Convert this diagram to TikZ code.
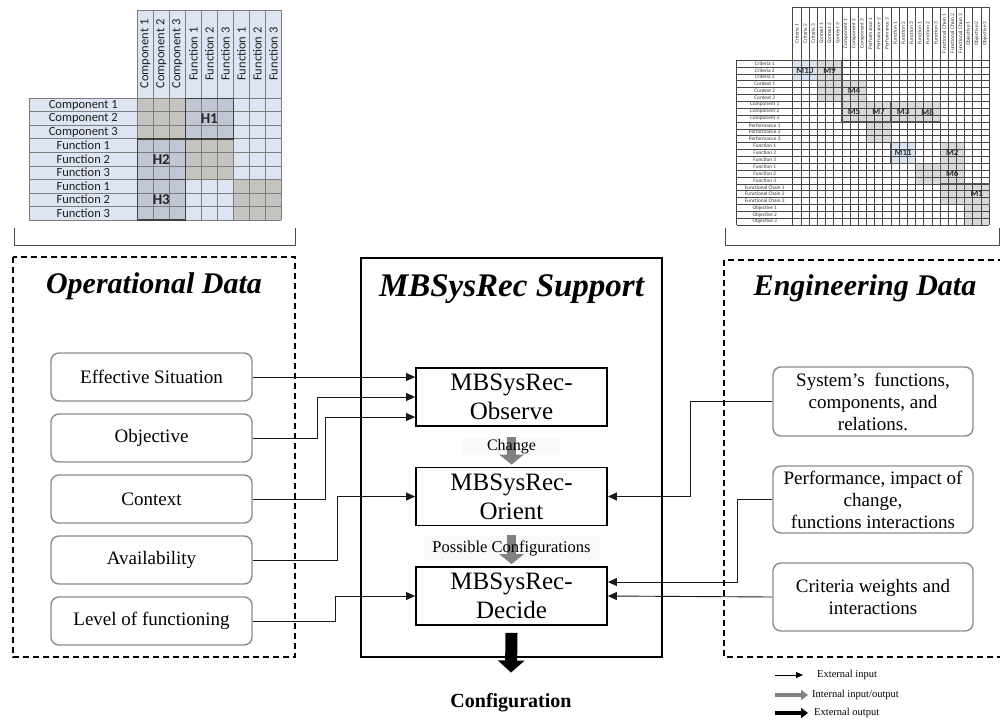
\documentclass[tikz,border=0pt]{standalone}
\usepackage{fontspec}
\setmainfont{Liberation Serif}
\newfontfamily\calib{Carlito}
\usetikzlibrary{arrows.meta,calc}
\definecolor{lblue}{RGB}{220,229,241}
\definecolor{gblk}{RGB}{196,195,192}
\definecolor{hblk}{RGB}{193,199,212}
\definecolor{gridc}{RGB}{125,125,125}
\definecolor{rgridc}{RGB}{70,70,70}
\definecolor{rgray}{RGB}{217,217,217}
\definecolor{rblue}{RGB}{219,227,241}
\definecolor{boxc}{RGB}{140,140,140}
\definecolor{garc}{RGB}{128,128,128}
\definecolor{bgc}{RGB}{249,249,249}
\definecolor{txtc}{RGB}{30,30,30}
\begin{document}
\begin{tikzpicture}[x=1pt,y=-1pt,
  lgrid/.style={draw=gridc,line width=0.8pt},
  rgrid/.style={draw=rgridc,line width=0.5pt},
  hbord/.style={draw=black!75,line width=1.3pt},
  mbord/.style={draw=black!65,line width=0.9pt},
  lmtxt/.style={font=\calib\fontsize{12.5}{13}\selectfont,text=txtc,inner sep=0pt},
  rmtxt/.style={font=\calib\fontsize{5.3}{6}\selectfont,text=black!80,inner sep=0pt},
  hlab/.style={font=\calib\bfseries\fontsize{15}{16}\selectfont,text=black!85,inner sep=0pt},
  mlab/.style={font=\calib\bfseries\fontsize{9}{10}\selectfont,text=black!80,inner sep=0pt},
  dbox/.style={draw=black,line width=1.4pt,dash pattern=on 6pt off 4pt},
  cbox/.style={draw=black,line width=1.4pt},
  title/.style={font=\fontsize{30}{34}\selectfont\bfseries\itshape,anchor=base,inner sep=0pt},
  lbox/.style={draw=boxc,line width=1.4pt,rounded corners=8pt,minimum width=201pt,minimum height=48pt,
     font=\fontsize{19}{22}\selectfont,align=center,inner sep=0pt},
  rbox/.style={lbox,minimum width=200pt},
  mbox/.style={draw=black,line width=1.8pt,minimum width=191pt,minimum height=58pt,
     font=\fontsize{25}{29}\selectfont,align=center,inner sep=0pt},
  conn/.style={draw=black!90,line width=0.9pt,-{Triangle[length=9pt,width=8pt]}},
  garr/.style={draw=garc,line width=9pt,-{Triangle[length=10pt,width=24pt]}},
  barr/.style={draw=black,line width=12pt,-{Triangle[length=12pt,width=26pt]}},
  lbl/.style={font=\fontsize{16}{18}\selectfont,inner sep=0pt},
  legtxt/.style={font=\fontsize{10.5}{12}\selectfont,anchor=west,inner sep=0pt}
]
\useasboundingbox (0,0) rectangle (1000,723);
\fill[white] (0,0) rectangle (1000,723);

% ---------------- left matrix ----------------
\begin{scope}[shift={(137.3,98.3)},xscale=16,yscale=13.52]
\fill[lblue] (-6.75,0) rectangle (9,9);
\fill[lblue] (0,-6.53) rectangle (9,0);
\fill[gblk] (0,0) rectangle (3,3);
\fill[gblk] (3,3) rectangle (6,6);
\fill[gblk] (6,6) rectangle (9,9);
\fill[hblk] (3,0) rectangle (6,3);
\fill[hblk] (0,3) rectangle (3,6);
\fill[hblk] (0,6) rectangle (3,9);
\foreach \c in {0,...,9} \draw[lgrid] (\c,-6.53) -- (\c,9);
\foreach \r in {0,...,9} \draw[lgrid] (-6.75,\r) -- (9,\r);
\draw[lgrid] (0,-6.53) -- (9,-6.53);
\draw[lgrid] (-6.75,0) -- (-6.75,9);
\draw[hbord] (3,0) rectangle (6,3);
\draw[hbord] (0,3) rectangle (3,6);
\draw[hbord] (0,6) rectangle (3,9);
\foreach \t [count=\i] in {Component 1,Component 2,Component 3,Function 1,Function 2,Function 3,Function 1,Function 2,Function 3}{
  \node[lmtxt] (lr\i) at (-3.375,\i-0.5) {\t};
  \node[lmtxt,rotate=90] (lc\i) at (\i-0.5,-3.27) {\t};
}
\node[hlab] (h1) at (4.5,1.5) {H1};
\node[hlab] (h2) at (1.5,4.5) {H2};
\node[hlab] (h3) at (1.5,7.5) {H3};
\end{scope}

% ---------------- right matrix ----------------
\begin{scope}[shift={(792.7,60)},xscale=8.18,yscale=6.875]
\fill[white] (-6.85,0) rectangle (24,24);
\fill[rblue] (0,0) rectangle (3,3);
\fill[rgray] (3,0) rectangle (6,3);
\fill[rgray] (3,3) rectangle (9,6);
\fill[rgray] (6,6) rectangle (18,9);
\fill[rgray] (9,9) rectangle (12,12);
\fill[rblue] (12,12) rectangle (15,15);
\fill[rgray] (18,12) rectangle (21,18);
\fill[rgray] (15,15) rectangle (18,18);
\fill[rgray] (18,18) rectangle (24,21);
\fill[rgray] (21,21) rectangle (24,24);
\foreach \c in {0,...,24} \draw[rgrid] (\c,-7.7) -- (\c,24);
\foreach \r in {0,...,24} \draw[rgrid] (-6.85,\r) -- (24,\r);
\draw[rgrid] (0,-7.7) -- (24,-7.7);
\draw[rgrid] (-6.85,0) -- (-6.85,24);
\draw[mbord] (0,0) rectangle (3,3);
\draw[mbord] (3,0) rectangle (6,3);
\draw[mbord] (6,3) rectangle (9,6);
\draw[mbord] (6,6) rectangle (9,9);
\draw[mbord] (9,6) rectangle (12,9);
\draw[mbord] (12,6) rectangle (15,9);
\draw[mbord] (15,6) rectangle (18,9);
\draw[mbord] (12,12) rectangle (15,15);
\draw[mbord] (18,12) rectangle (21,15);
\draw[mbord] (18,15) rectangle (21,18);
\draw[mbord] (21,18) rectangle (24,21);
\foreach \t [count=\i] in {Criteria 1,Criteria 2,Criteria 3,Context 1,Context 2,Context 3,Component 1,Component 2,Component 3,Performance 1,Performance 2,Performance 3,Function 1,Function 2,Function 3,Function 1,Function 2,Function 3,Functional Chain 1,Functional Chain 2,Functional Chain 3,Objective 1,Objective 2,Objective 3}{
  \node[rmtxt] (rr\i) at (-3.425,\i-0.5) {\t};
  \node[rmtxt,rotate=90] (rc\i) at (\i-0.5,-3.85) {\t};
}
\node[mlab] (m10) at (1.5,1.5) {M10};
\node[mlab] (m9) at (4.5,1.5) {M9};
\node[mlab] (m4) at (7.5,4.5) {M4};
\node[mlab] (m5) at (7.5,7.5) {M5};
\node[mlab] (m7) at (10.5,7.5) {M7};
\node[mlab] (m3) at (13.5,7.5) {M3};
\node[mlab] (m8) at (16.5,7.6) {M8};
\node[mlab] (m11) at (13.5,13.5) {M11};
\node[mlab] (m2) at (19.5,13.5) {M2};
\node[mlab] (m6) at (19.5,16.5) {M6};
\node[mlab] (m1) at (22.5,19.5) {M1};
\end{scope}

% ---------------- brackets ----------------
\draw[black!70,line width=0.9pt] (14,228) -- (14,245) -- (295,245) -- (295,228);
\draw[black!70,line width=0.9pt] (725,228) -- (725,245) -- (999,245) -- (999,228);

% ---------------- containers ----------------
\draw[dbox] (13,257) rectangle (295,657);
\draw[cbox] (361,258) rectangle (662,657);
\draw[dbox] (724,260) rectangle (1012,657);

\node[title] (tod) at (154,293) {Operational Data};
\node[title,font=\fontsize{33}{36}\selectfont\bfseries\itshape] (tms) at (511.5,296) {MBSysRec Support};
\node[title] (ted) at (865,295) {Engineering Data};

% ---------------- left boxes ----------------
\node[lbox] (lb1) at (151.5,377) {Effective Situation};
\node[lbox] (lb2) at (151.5,438) {Objective};
\node[lbox] (lb3) at (151.5,499) {Context};
\node[lbox] (lb4) at (151.5,560) {Availability};
\node[lbox] (lb5) at (151.5,621) {Level of functioning};

% ---------------- right boxes ----------------
\node[rbox,minimum height=69pt] (rb1) at (873,401.5) {System’s\ \ functions,\\components, and\\relations.};
\node[rbox,minimum height=67pt] (rb2) at (873,499.5) {Performance, impact of\\change,\\functions interactions};
\node[rbox,minimum height=68pt] (rb3) at (873,597) {Criteria weights and\\interactions};

% ---------------- middle boxes ----------------
\node[mbox] (obs) at (511.5,397) {MBSysRec-\\Observe};
\node[mbox] (ori) at (511.5,496.5) {MBSysRec-\\Orient};
\node[mbox] (dec) at (511.5,596) {MBSysRec-\\Decide};

% ---------------- internal arrows ----------------
\fill[bgc] (463,438) rectangle (560,455);
\fill[bgc] (424,536) rectangle (600,561);
\draw[garr] ([yshift=-10pt]obs.south) -- ([yshift=2pt]ori.north);
\draw[garr] ([yshift=-9pt]ori.south) -- ([yshift=2pt]dec.north);
\node[lbl] (chg) at (511.5,447) {Change};
\node[lbl,font=\fontsize{16.5}{18}\selectfont] (pc) at (511.5,548) {Possible Configurations};

\node[font=\fontsize{20}{22}\selectfont\bfseries,inner sep=0pt] (conf) at (511,703) {Configuration};
\draw[barr] ([yshift=-7pt]dec.south) -- ([yshift=21pt]conf.north);

% ---------------- connectors ----------------
\draw[conn] (lb1.east) -- (lb1.east -| obs.west);
\draw[conn] (lb2.east) -- ++(65,0) |- (obs.west);
\draw[conn] (lb3.east) -- ++(73,0) |- ([yshift=-20pt]obs.west);
\draw[conn] (lb4.east) -- ++(85,0) |- (ori.west);
\draw[conn] (lb5.east) -- ++(83,0) |- (dec.west);
\draw[conn] (rb1.west) -- ++(-82,0) |- (ori.east);
\draw[conn] (rb2.west) -- ++(-35,0) |- ([yshift=14pt]dec.east);
\draw[conn] (rb3.west) -- (dec.east);

% ---------------- legend ----------------
\coordinate (la1) at (775,675);
\coordinate (lb1e) at (803,675);
\coordinate (la2) at (775,695);
\coordinate (lb2e) at (808,695);
\coordinate (la3) at (775,713);
\coordinate (lb3e) at (808,713);
\draw[draw=black,line width=0.8pt,-{Triangle[length=7pt,width=6pt]}] (la1) -- (lb1e);
\draw[draw=garc,line width=4pt,-{Triangle[length=7pt,width=10pt]}] (la2) -- (lb2e);
\draw[draw=black,line width=4pt,-{Triangle[length=7pt,width=10pt]}] (la3) -- (lb3e);
\node[legtxt] (lt1) at (817,675) {External input};
\node[legtxt] (lt2) at (812,695) {Internal input/output};
\node[legtxt] (lt3) at (814,713) {External output};
\end{tikzpicture}
\end{document}
